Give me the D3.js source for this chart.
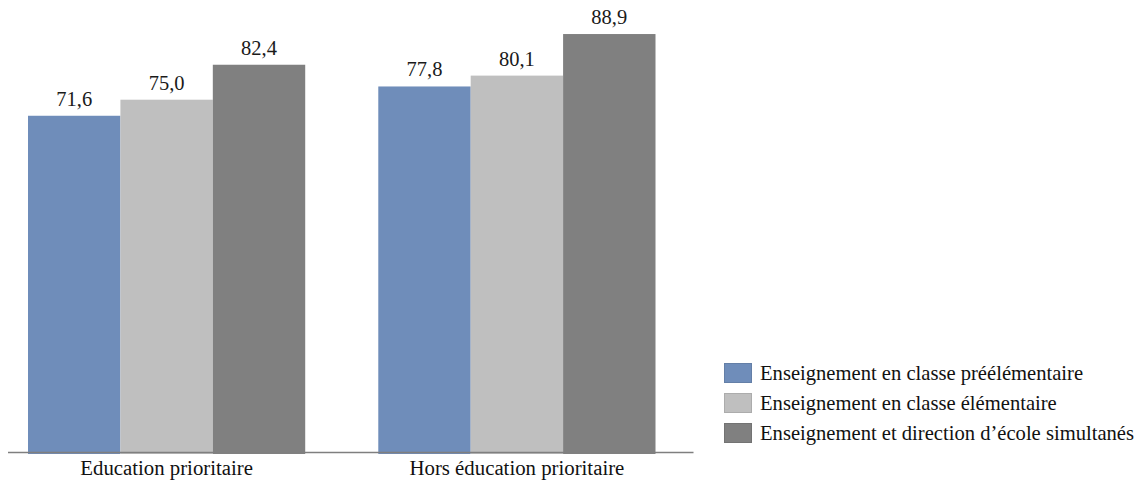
<!DOCTYPE html>
<html><head><meta charset="utf-8">
<script src="https://cdn.jsdelivr.net/npm/d3@7"></script>
<style>body{margin:0;background:#fff}svg{display:block}</style>
</head><body>
<svg id="c" width="1142" height="482"></svg>
<script>
const categories = ["Education prioritaire", "Hors éducation prioritaire"];
const seriesNames = ["Enseignement en classe préélémentaire", "Enseignement en classe élémentaire", "Enseignement et direction d\u2019école simultanés"];
const preelementaire = [71.6, 77.8];
const elementaire = [75.0, 80.1];
const direction = [82.4, 88.9];
const seriesValues = [preelementaire, elementaire, direction];
const colors = ["#6f8dba", "#bfbfbf", "#808080"];
const FONT = '"Liberation Serif"';

const svg = d3.select("#c");
const x0 = d3.scaleBand().domain(categories).range([28, 655.5]).paddingInner(0.2086).paddingOuter(0);
const x1 = d3.scaleBand().domain(d3.range(seriesNames.length)).range([0, x0.bandwidth()]);
const y = d3.scaleLinear().domain([0, 90]).range([454, 454 - 90 * 4.724]);
const fmt = v => d3.format(".1f")(v).replace(".", ",");

const g = svg.append("g");
categories.forEach((c, ci) => {
  seriesValues.forEach((vals, si) => {
    const v = vals[ci];
    const bx = x0(c) + x1(si);
    g.append("rect").attr("x", bx).attr("y", y(v)).attr("width", x1.bandwidth()).attr("height", y(0) - y(v)).attr("fill", colors[si]);
    g.append("text").attr("x", bx + x1.bandwidth() / 2).attr("y", y(v) - 10).attr("text-anchor", "middle")
      .style("font-family", FONT).style("font-size", "20.5px").attr("fill", "#1a1a1a").text(fmt(v));
  });
});

const axisY = y(0) - 1.5;
const axis = svg.append("g").attr("transform", `translate(0,${axisY})`).call(d3.axisBottom(x0).tickSize(0).tickSizeOuter(0).tickPadding(9));
axis.attr("font-family", null);
axis.select(".domain").remove();
axis.selectAll("text").attr("dy", null).attr("y", 475 - axisY)
  .style("font-family", FONT).style("font-size", "20.8px").attr("fill", "#111");
svg.append("line").attr("x1", x0.range()[0] - 20).attr("x2", x0.range()[1] + 38).attr("y1", axisY).attr("y2", axisY)
  .attr("stroke", "#7f7f7f").attr("stroke-width", 1.5);

const leg = svg.append("g");
seriesNames.forEach((n, i) => {
  const ly = 363 + i * 30;
  leg.append("rect").attr("x", 724.5).attr("y", ly + 0.5).attr("width", 27).attr("height", 19).attr("fill", colors[i]).attr("stroke", d3.color(colors[i]).darker(0.3)).attr("stroke-width", 1);
  leg.append("text").attr("x", 760).attr("y", ly + 17).style("font-family", FONT).style("font-size", "20.6px").attr("fill", "#111").text(n);
});
</script>
</body></html>
